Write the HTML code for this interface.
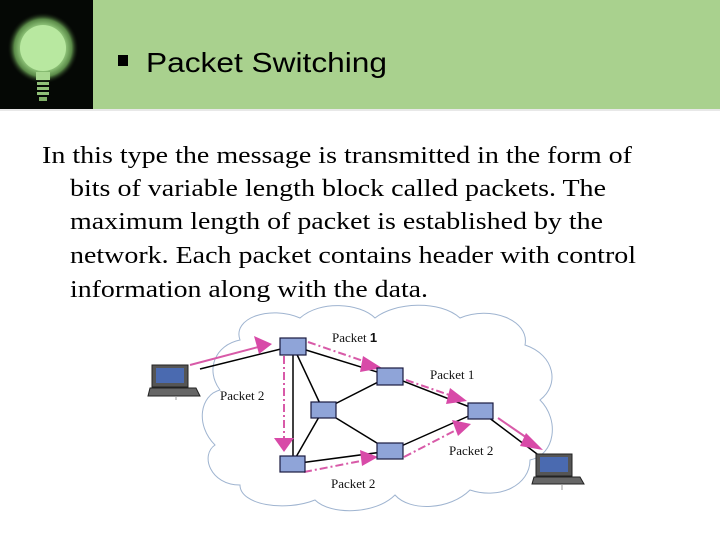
<!DOCTYPE html>
<html><head><meta charset="utf-8"><style>
html,body{margin:0;padding:0;background:#fff}
svg{display:block}
</style></head><body>
<svg width="720" height="540" viewBox="0 0 720 540" xmlns="http://www.w3.org/2000/svg">
<defs>
<radialGradient id="glow" cx="50%" cy="50%" r="50%">
<stop offset="0" stop-color="#c8f0b0"/><stop offset="0.55" stop-color="#a8e090"/><stop offset="0.8" stop-color="#5a8a48"/><stop offset="1" stop-color="#000" stop-opacity="0"/>
</radialGradient>
</defs>
<rect x="92" y="0" width="628" height="109" fill="#a9d18e"/>
<rect x="0" y="0" width="93" height="109" fill="#050805"/>
<circle cx="43" cy="48" r="36" fill="url(#glow)"/>
<circle cx="43" cy="48" r="23" fill="#b8e8a0"/>
<rect x="36" y="72" width="14" height="8" fill="#a8d890"/>
<rect x="37" y="82" width="12" height="3" fill="#90c078"/>
<rect x="37" y="87" width="12" height="3" fill="#90c078"/>
<rect x="37" y="92" width="12" height="3" fill="#90c078"/>
<rect x="39" y="97" width="8" height="4" fill="#80b068"/>
<rect x="0" y="109" width="720" height="2" fill="#e8e8e8"/>
<rect x="118" y="55" width="10" height="11" fill="#000"/>
<text x="146" y="72" font-family="Liberation Sans, sans-serif" font-size="28" textLength="241" lengthAdjust="spacingAndGlyphs">Packet Switching</text>
<g font-family="Liberation Serif, serif" font-size="24" fill="#000">
<text x="42" y="163" textLength="590" lengthAdjust="spacingAndGlyphs">In this type the message is transmitted in the form of</text>
<text x="70" y="196" textLength="536" lengthAdjust="spacingAndGlyphs">bits of variable length block called packets. The</text>
<text x="70" y="229" textLength="533" lengthAdjust="spacingAndGlyphs">maximum length of packet is established by the</text>
<text x="70" y="263" textLength="566" lengthAdjust="spacingAndGlyphs">network. Each packet contains header with control</text>
<text x="70" y="297" textLength="358" lengthAdjust="spacingAndGlyphs">information along with the data.</text>
</g>
<!-- cloud -->
<path d="M240,340 C232,318 270,305 300,318 C320,300 360,303 375,318 C395,302 440,300 460,318 C490,305 530,320 525,345 C555,355 560,385 540,400 C560,420 555,455 530,460 C530,485 500,500 470,490 C450,510 410,512 395,495 C375,515 330,515 315,500 C285,512 240,505 240,485 C210,485 200,455 215,445 C195,425 200,395 220,390 C205,370 215,345 240,340 Z" fill="#fff" stroke="#9fb4d0" stroke-width="1"/>
<!-- links -->
<g stroke="#000" stroke-width="1.5">
<line x1="200" y1="369" x2="293" y2="346"/>
<line x1="293" y1="346" x2="390" y2="376"/>
<line x1="293" y1="346" x2="323" y2="410"/>
<line x1="293" y1="346" x2="293" y2="464"/>
<line x1="323" y1="410" x2="390" y2="376"/>
<line x1="323" y1="410" x2="292" y2="464"/>
<line x1="323" y1="410" x2="390" y2="451"/>
<line x1="292" y1="464" x2="390" y2="451"/>
<line x1="390" y1="376" x2="480" y2="411"/>
<line x1="390" y1="451" x2="480" y2="411"/>
<line x1="480" y1="411" x2="545" y2="460"/>
</g>
<!-- pink arrows -->
<g stroke="#d85aa8" stroke-width="2" fill="none">
<line x1="190" y1="365" x2="262" y2="346"/>
<line x1="308" y1="342" x2="372" y2="364" stroke-dasharray="8,3,2,3"/>
<line x1="406" y1="380" x2="455" y2="397" stroke-dasharray="8,3,2,3"/>
<line x1="284" y1="356" x2="284" y2="440" stroke-dasharray="8,3,2,3"/>
<line x1="304" y1="472" x2="366" y2="460" stroke-dasharray="8,3,2,3"/>
<line x1="404" y1="457" x2="458" y2="429" stroke-dasharray="8,3,2,3"/>
<line x1="498" y1="418" x2="530" y2="440"/>
</g>
<g fill="#d84aa8">
<polygon points="272,344 254,336 259,354"/>
<polygon points="382,368 363,356 360,372"/>
<polygon points="467,401 450,388 446,404"/>
<polygon points="284,452 274,438 294,438"/>
<polygon points="378,457 360,450 362,466"/>
<polygon points="471,424 452,420 458,436"/>
<polygon points="543,450 526,433 520,446"/>
</g>
<!-- nodes -->
<g fill="#8fa4d8" stroke="#1a1a40" stroke-width="1.2">
<rect x="280" y="338" width="26" height="17"/>
<rect x="377" y="368" width="26" height="17"/>
<rect x="311" y="402" width="25" height="16"/>
<rect x="280" y="456" width="25" height="16"/>
<rect x="377" y="443" width="26" height="16"/>
<rect x="468" y="403" width="25" height="16"/>
</g>
<!-- laptops -->
<g>
<rect x="152" y="365" width="36" height="22" fill="#555" stroke="#222"/>
<rect x="156" y="368" width="28" height="15" fill="#4a6ab0"/>
<path d="M150,388 L196,388 L200,396 L148,396 Z" fill="#666" stroke="#222"/>
<line x1="176" y1="396" x2="176" y2="400" stroke="#999"/>
<rect x="536" y="454" width="36" height="22" fill="#555" stroke="#222"/>
<rect x="540" y="457" width="28" height="15" fill="#4a6ab0"/>
<path d="M534,477 L580,477 L584,484 L532,484 Z" fill="#666" stroke="#222"/>
<line x1="562" y1="484" x2="562" y2="490" stroke="#999"/>
</g>
<g font-family="Liberation Serif, serif" font-size="13" fill="#111">
<text x="332" y="342">Packet <tspan font-family="Liberation Sans, sans-serif" font-weight="bold">1</tspan></text>
<text x="430" y="379">Packet 1</text>
<text x="220" y="400">Packet 2</text>
<text x="449" y="455">Packet 2</text>
<text x="331" y="488">Packet 2</text>
</g>
</svg>
</body></html>
